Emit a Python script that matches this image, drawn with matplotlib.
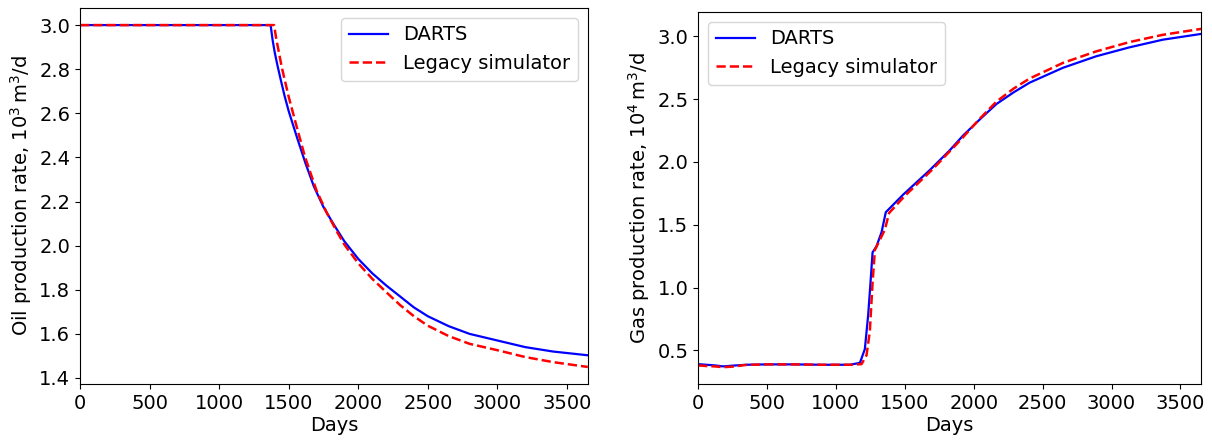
import matplotlib
matplotlib.use('Agg')
import matplotlib.pyplot as plt

# oil production rate, 10^3 m3/d
oil_days_darts = [0, 1370, 1385, 1400, 1420, 1440, 1470, 1500, 1560, 1620, 1680, 1750, 1820,
                  1900, 2000, 2100, 2200, 2300, 2400, 2500, 2650, 2800, 3000, 3200, 3400, 3650]
oil_darts = [3.0, 3.0, 2.93, 2.875, 2.815, 2.76, 2.68, 2.61, 2.49, 2.375, 2.27, 2.175, 2.10,
             2.02, 1.94, 1.875, 1.82, 1.77, 1.72, 1.68, 1.635, 1.60, 1.57, 1.54, 1.52, 1.503]

oil_days_legacy = [0, 1395, 1410, 1430, 1450, 1466, 1500, 1557, 1617, 1700, 1773, 1850, 1900,
                   2000, 2100, 2200, 2300, 2400, 2500, 2650, 2800, 3000, 3200, 3400, 3650]
oil_legacy = [3.0, 3.0, 2.94, 2.875, 2.81, 2.766, 2.675, 2.54, 2.403, 2.25, 2.15, 2.06, 2.005,
              1.92, 1.85, 1.79, 1.731, 1.68, 1.637, 1.59, 1.555, 1.526, 1.495, 1.472, 1.45]

# gas production rate, 10^4 m3/d
gas_days_darts = [0, 60, 120, 181, 250, 350, 500, 700, 900, 1100, 1174, 1210, 1234, 1251,
                  1266, 1295, 1331, 1362, 1488, 1681, 1826, 1923, 2050, 2164, 2290, 2406,
                  2647, 2889, 3130, 3372, 3650]
gas_darts = [0.39, 0.385, 0.38, 0.372, 0.378, 0.385, 0.388, 0.388, 0.385, 0.385, 0.40, 0.51,
             0.78, 1.04, 1.28, 1.33, 1.44, 1.60, 1.74, 1.935, 2.093, 2.211, 2.345, 2.461,
             2.555, 2.632, 2.75, 2.842, 2.913, 2.974, 3.02]

gas_days_legacy = [0, 60, 120, 181, 250, 350, 500, 700, 900, 1100, 1186, 1222, 1246, 1266,
                   1283, 1319, 1355, 1386, 1500, 1700, 1900, 2040, 2164, 2290, 2406, 2647,
                   2889, 3130, 3372, 3650]
gas_legacy = [0.38, 0.375, 0.372, 0.366, 0.37, 0.384, 0.388, 0.388, 0.385, 0.385, 0.39, 0.46,
              0.65, 1.04, 1.30, 1.38, 1.46, 1.594, 1.73, 1.94, 2.17, 2.34, 2.48, 2.585,
              2.665, 2.789, 2.881, 2.955, 3.013, 3.06]

plt.rcParams['font.size'] = 14

fig = plt.figure(figsize=(12.12, 4.44), dpi=100)
ax1 = fig.add_axes([0.066, 0.135, 0.419, 0.847])
ax2 = fig.add_axes([0.576, 0.135, 0.415, 0.838])

ax1.plot(oil_days_darts, oil_darts, 'b-', lw=1.6, label='DARTS')
ax1.plot(oil_days_legacy, oil_legacy, 'r--', lw=1.8, label='Legacy simulator')
ax1.set_xlim(0, 3650)
ax1.set_xlabel('Days', labelpad=2)
ax1.set_ylabel(r'Oil production rate, $10^3\,\mathrm{m}^3$/d')
ax1.legend(loc='upper right')

ax2.plot(gas_days_darts, gas_darts, 'b-', lw=1.6, label='DARTS')
ax2.plot(gas_days_legacy, gas_legacy, 'r--', lw=1.8, label='Legacy simulator')
ax2.set_xlim(0, 3650)
ax2.set_xlabel('Days', labelpad=2)
ax2.set_ylabel(r'Gas production rate, $10^4\,\mathrm{m}^3$/d')
ax2.legend(loc='upper left')

fig.savefig('out.png', dpi=100)
